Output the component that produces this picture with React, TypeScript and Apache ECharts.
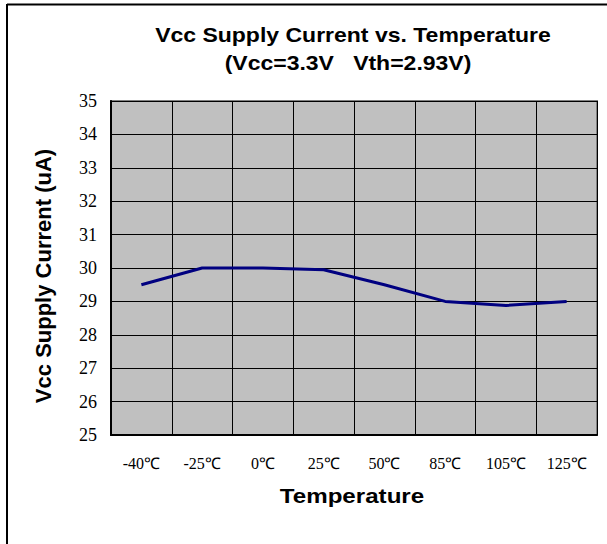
import React, { useEffect, useRef } from "react";
import * as echarts from "echarts";

const categories = ["-40℃", "-25℃", "0℃", "25℃", "50℃", "85℃", "105℃", "125℃"];
const currentValues = [29.5, 30.0, 30.0, 29.95, 29.5, 29.0, 28.88, 29.0];
const titleLines = ["Vcc Supply Current vs. Temperature", "(Vcc=3.3V   Vth=2.93V)"];
const yAxisTitle = "Vcc Supply Current (uA)";
const xAxisTitle = "Temperature";

export default function App() {
  const ref = useRef<HTMLDivElement>(null);
  useEffect(() => {
    document.body.style.margin = "0";
    const chart = echarts.init(ref.current!, null, { renderer: "svg" });
    const serif = "Liberation Serif";
    const sans = "'Liberation Sans', Arial, sans-serif";
    chart.setOption({
      animation: false,
      backgroundColor: "#ffffff",
      grid: {
        left: 111,
        top: 101,
        right: 10,
        bottom: 109,
        show: true,
        backgroundColor: "#c0c0c0",
        borderColor: "#808080",
        borderWidth: 2,
      },
      xAxis: {
        type: "category",
        data: categories,
        boundaryGap: true,
        axisLine: { show: true, lineStyle: { color: "#000", width: 2 } },
        axisTick: { show: false },
        splitLine: { show: true, lineStyle: { color: "#000", width: 1 } },
        axisLabel: { color: "#000", fontFamily: serif, fontSize: 16, margin: 20 },
      },
      yAxis: {
        type: "value",
        min: 25,
        max: 35,
        interval: 1,
        axisLine: { show: true, lineStyle: { color: "#000", width: 2 } },
        axisTick: { show: false },
        splitLine: { show: true, lineStyle: { color: "#000", width: 1 } },
        axisLabel: { color: "#000", fontFamily: serif, fontSize: 18, margin: 14 },
      },
      series: [
        {
          type: "line",
          data: currentValues,
          symbol: "none",
          lineStyle: { color: "#000080", width: 3 },
          itemStyle: { color: "#000080" },
        },
      ],
      graphic: [
        { type: "line", shape: { x1: 7, y1: 4.5, x2: 607, y2: 4.5 }, style: { stroke: "#000", lineWidth: 2 } },
        { type: "line", shape: { x1: 7, y1: 4, x2: 7, y2: 544 }, style: { stroke: "#000", lineWidth: 2 } },
        {
          type: "text",
          x: 353,
          y: 35,
          scaleX: 1.15,
          style: { text: titleLines[0], font: `bold 20px ${sans}`, fill: "#000", align: "center", verticalAlign: "middle" },
        },
        {
          type: "text",
          x: 348,
          y: 63,
          scaleX: 1.15,
          style: { text: titleLines[1], font: `bold 20px ${sans}`, fill: "#000", align: "center", verticalAlign: "middle" },
        },
        {
          type: "text",
          x: 43,
          y: 276,
          rotation: Math.PI / 2,
          style: { text: yAxisTitle, font: `bold 22px ${sans}`, fill: "#000", align: "center", verticalAlign: "middle" },
        },
        {
          type: "text",
          x: 352,
          y: 496,
          scaleX: 1.15,
          style: { text: xAxisTitle, font: `bold 21px ${sans}`, fill: "#000", align: "center", verticalAlign: "middle" },
        },
      ],
    });
    return () => chart.dispose();
  }, []);
  return <div ref={ref} style={{ width: 607, height: 544 }} />;
}
